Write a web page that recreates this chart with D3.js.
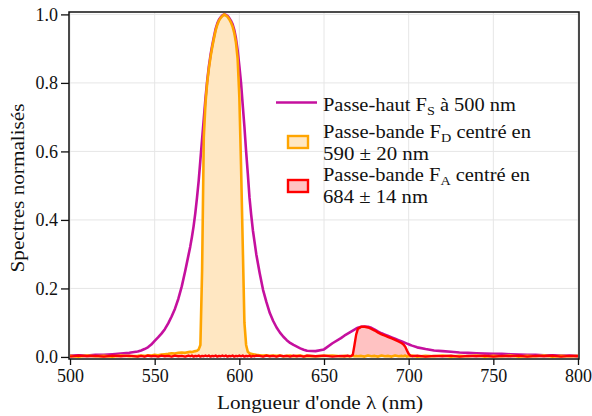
<!DOCTYPE html>
<html><head><meta charset="utf-8">
<script src="https://cdn.jsdelivr.net/npm/d3@7"></script>
<style>
html,body{margin:0;padding:0;background:#fff;}
svg text{font-family:"Liberation Serif","Times New Roman","DejaVu Serif","Noto Serif",serif !important;fill:#111;}
</style></head>
<body>
<svg id="c" width="592" height="416"></svg>
<script>
// wavelengths (nm)
const wavelengths = [
  500,505,510,515,520,525,530,535,540,
  542,544,546,548,550,552,554,556,558,560,562,564,566,568,570,
  571,572,573,574,575,576,577,578,579,580,
  581,582,583,584,585,586,587,588,589,590,
  591,592,593,594,595,596,597,598,599,600,
  601,602,603,604,605,606,607,608,609,610,
  612,614,616,618,620,622,624,626,628,630,632,634,636,638,640,
  645,650,655,660,662,664,
  665,666,667,668,669,670,
  672,674,676,678,680,682,684,686,688,690,692,694,696,
  697,698,699,700,701,702,
  705,710,715,720,725,730,735,740,745,750,755,760,765,770,775,780,785,790,795,800
];
// High-pass F_S at 500 nm (magenta)
const passeHaut = [
  0.004,0.005,0.004,0.006,0.006,0.008,0.010,0.012,0.016,
  0.019,0.023,0.028,0.036,0.047,0.057,0.068,0.081,0.098,0.118,0.141,0.170,0.206,0.250,0.298,
  0.322,0.350,0.382,0.420,0.465,0.515,0.575,0.635,0.695,0.755,
  0.805,0.848,0.882,0.910,0.935,0.958,0.974,0.985,0.992,0.997,
  1.000,0.999,0.996,0.990,0.982,0.972,0.955,0.930,0.895,0.850,
  0.800,0.735,0.672,0.600,0.535,0.465,0.415,0.370,0.335,0.300,
  0.245,0.196,0.160,0.128,0.105,0.086,0.071,0.059,0.049,0.041,0.035,0.030,0.025,0.021,0.018,
  0.017,0.022,0.040,0.055,0.062,0.068,
  0.071,0.074,0.077,0.080,0.083,0.085,
  0.088,0.089,0.088,0.085,0.080,0.074,0.069,0.065,0.061,0.057,0.053,0.049,0.045,
  0.043,0.041,0.039,0.037,0.035,0.033,
  0.028,0.023,0.019,0.017,0.015,0.013,0.012,0.011,0.010,0.009,0.009,0.008,0.007,0.006,0.006,0.005,0.005,0.004,0.004,0.003
];
// Band-pass F_D centred at 590 ± 20 nm (orange)
const passeBandeD = [
  0.003,0.001,0.004,0.002,0.003,0.001,0.004,0.002,0.003,
  0.004,0.003,0.005,0.004,0.006,0.005,0.007,0.008,0.009,0.011,0.010,0.012,0.013,0.012,0.014,
  0.015,0.014,0.016,0.017,0.018,0.022,0.035,0.250,0.640,0.740,
  0.800,0.842,0.876,0.905,0.930,0.953,0.970,0.982,0.990,0.995,
  1.000,0.997,0.993,0.986,0.977,0.965,0.946,0.918,0.870,0.760,
  0.560,0.330,0.100,0.035,0.015,0.011,0.009,0.008,0.007,0.006,
  0.005,0.004,0.005,0.003,0.004,0.003,0.004,0.002,0.003,0.004,0.002,0.003,0.004,0.002,0.003,
  0.002,0.003,0.004,0.002,0.003,0.002,
  0.003,0.002,0.004,0.002,0.003,0.002,
  0.003,0.001,0.004,0.002,0.003,0.001,0.004,0.002,0.003,0.001,0.004,0.002,0.003,
  0.002,0.004,0.001,0.003,0.002,0.004,
  0.001,0.003,0.002,0.004,0.001,0.003,0.002,0.004,0.001,0.003,0.002,0.004,0.001,0.003,0.002,0.004,0.001,0.003,0.002,0.003
];
// Band-pass F_A centred at 684 ± 14 nm (red)
const passeBandeA = [
  0.001,0.004,0.002,0.003,0.001,0.004,0.002,0.004,0.001,
  0.003,0.001,0.004,0.002,0.003,0.001,0.004,0.002,0.003,0.001,0.004,0.002,0.003,0.001,0.004,
  0.002,0.004,0.001,0.003,0.002,0.004,0.001,0.003,0.002,0.004,
  0.002,0.004,0.001,0.003,0.002,0.004,0.001,0.003,0.002,0.004,
  0.002,0.004,0.001,0.003,0.002,0.004,0.001,0.003,0.002,0.004,
  0.002,0.004,0.001,0.003,0.002,0.004,0.001,0.003,0.002,0.004,
  0.003,0.001,0.004,0.002,0.003,0.001,0.004,0.002,0.003,0.001,0.004,0.002,0.003,0.001,0.004,
  0.002,0.004,0.001,0.003,0.002,0.004,
  0.002,0.003,0.006,0.035,0.065,0.082,
  0.088,0.088,0.086,0.082,0.077,0.071,0.066,0.062,0.058,0.054,0.050,0.045,0.040,
  0.036,0.030,0.019,0.009,0.004,0.002,
  0.004,0.001,0.003,0.002,0.004,0.001,0.003,0.002,0.004,0.001,0.003,0.002,0.004,0.001,0.003,0.002,0.004,0.001,0.003,0.002
];
const xTicks = [500,550,600,650,700,750,800];
const yTicks = [0.0,0.2,0.4,0.6,0.8,1.0];
const xLabel = "Longueur d'onde λ (nm)";
const yLabel = "Spectres normalisés";

const FONT = "'Liberation Serif','Times New Roman','DejaVu Serif',serif";
const svg = d3.select("#c");
const L = 69, R = 579, T = 12, B = 359;
const x = d3.scaleLinear().domain([499.4, 800.6]).range([L, R]);
const y = d3.scaleLinear().domain([-0.006, 1.007]).range([B, T]);

// grid
const g = svg.append("g");
g.selectAll(".gx").data(xTicks).join("line")
  .attr("x1", d=>x(d)).attr("x2", d=>x(d)).attr("y1", T).attr("y2", B)
  .attr("stroke", "#e6e6e6").attr("stroke-width", 1);
g.selectAll(".gy").data(yTicks).join("line")
  .attr("x1", L).attr("x2", R).attr("y1", d=>y(d)).attr("y2", d=>y(d))
  .attr("stroke", "#e6e6e6").attr("stroke-width", 1);

function pts(vals){ return wavelengths.map((w,i)=>[w, vals[i]]); }
const line = d3.line().x(d=>x(d[0])).y(d=>y(d[1]));
const area = d3.area().x(d=>x(d[0])).y0(y(0)).y1(d=>y(d[1]));

const magenta = "#c5109e", orange = "#ffa500", red = "#ff0000";

svg.append("path").datum(pts(passeBandeD)).attr("d", area).attr("fill", "#ffe7c2");
svg.append("path").datum(pts(passeBandeA)).attr("d", area).attr("fill", "#ffc2c2");
svg.append("path").datum(pts(passeHaut)).attr("d", line).attr("fill","none")
  .attr("stroke", magenta).attr("stroke-width", 2.6).attr("stroke-linejoin","round");
svg.append("path").datum(pts(passeBandeD)).attr("d", line).attr("fill","none")
  .attr("stroke", orange).attr("stroke-width", 2.6).attr("stroke-linejoin","round");
svg.append("path").datum(pts(passeBandeA)).attr("d", line).attr("fill","none")
  .attr("stroke", red).attr("stroke-width", 2.4).attr("stroke-linejoin","round");

// axes
const xa = svg.append("g").attr("transform", `translate(0,${B})`)
  .call(d3.axisBottom(x).tickValues(xTicks).tickSize(6).tickSizeOuter(0).tickFormat(d3.format("d")));
const ya = svg.append("g").attr("transform", `translate(${L},0)`)
  .call(d3.axisLeft(y).tickValues(yTicks).tickSize(8).tickSizeOuter(0).tickFormat(d3.format(".1f")));
[xa, ya].forEach(a => {
  a.attr("font-family", FONT).attr("font-size", 18);
  a.select(".domain").remove();
  a.selectAll(".tick line").attr("stroke", "#111").attr("stroke-width", 1.3);
  a.selectAll(".tick text").attr("font-size", 18).attr("fill", "#111");
});
xa.selectAll(".tick text").attr("y", 10).attr("dy", "0.71em");
ya.selectAll(".tick text").attr("x", -11).attr("dy", "0.32em");

// frame
svg.append("rect").attr("x", L).attr("y", T).attr("width", R-L).attr("height", B-T)
  .attr("fill", "none").attr("stroke", "#111").attr("stroke-width", 1.5);

// axis labels
svg.append("text").attr("x", 320).attr("y", 409).attr("text-anchor", "middle")
  .attr("font-family", FONT).attr("font-size", 18)
  .attr("textLength", 206).attr("lengthAdjust", "spacingAndGlyphs").text(xLabel);
svg.append("text").attr("transform", `translate(24,188) rotate(-90)`).attr("text-anchor", "middle")
  .attr("font-family", FONT).attr("font-size", 18)
  .attr("textLength", 169).attr("lengthAdjust", "spacingAndGlyphs").text(yLabel);

// legend
const lg = svg.append("g");
lg.append("line").attr("x1", 276).attr("x2", 317).attr("y1", 102.5).attr("y2", 102.5)
  .attr("stroke", magenta).attr("stroke-width", 2.6);
lg.append("rect").attr("x", 288).attr("y", 136).attr("width", 20).attr("height", 12)
  .attr("fill", "#ffe7c2").attr("stroke", orange).attr("stroke-width", 2.4);
lg.append("rect").attr("x", 288).attr("y", 180).attr("width", 20).attr("height", 12)
  .attr("fill", "#ffc2c2").attr("stroke", red).attr("stroke-width", 2.4);

function legText(yb, w, parts){
  const t = lg.append("text").attr("x", 323).attr("y", yb).attr("font-size", 18).attr("font-family", FONT)
    .attr("textLength", w).attr("lengthAdjust", "spacingAndGlyphs");
  parts.forEach(p => {
    const s = t.append("tspan").text(p.t);
    if (p.sub) s.attr("font-size", 12.5).attr("dy", 4);
    if (p.up) s.attr("dy", -4);
  });
}
legText(110.5, 193, [{t:"Passe-haut F"},{t:"S",sub:true},{t:" à 500 nm",up:true}]);
legText(138, 208, [{t:"Passe-bande F"},{t:"D",sub:true},{t:" centré en",up:true}]);
legText(159.5, 106, [{t:"590 ± 20 nm"}]);
legText(181, 207, [{t:"Passe-bande F"},{t:"A",sub:true},{t:" centré en",up:true}]);
legText(202.5, 105, [{t:"684 ± 14 nm"}]);
</script>
</body></html>
